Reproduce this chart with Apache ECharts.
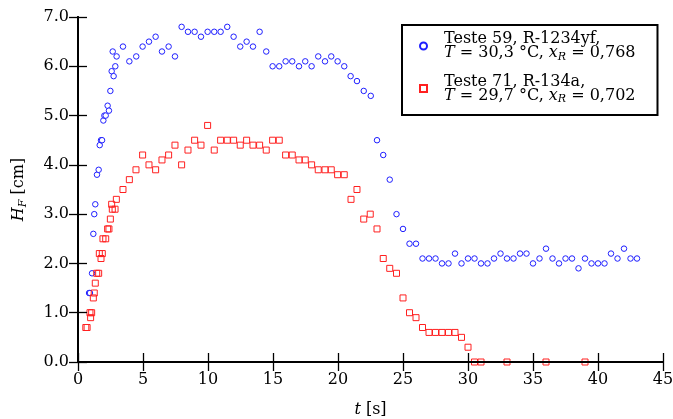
<!DOCTYPE html>
<html>
<head>
<meta charset="utf-8">
<script src="https://cdn.jsdelivr.net/npm/echarts@6/dist/echarts.min.js"></script>
<style>
html,body{margin:0;padding:0;background:#fff;}
#chart{width:673px;height:419px;}
</style>
</head>
<body>
<div id="chart"></div>
<script>
// Teste 59, R-1234yf : [t (s), H_F (cm)]
var serie59 = [
  [0.85,1.4],[0.92,1.4],[1.08,1.8],[1.18,2.6],[1.25,3.0],[1.33,3.2],[1.46,3.8],[1.59,3.9],
  [1.67,4.4],[1.77,4.5],[1.85,4.5],[1.95,4.9],[2.03,5.0],[2.13,5.0],[2.28,5.2],[2.38,5.1],
  [2.49,5.5],[2.59,5.9],[2.74,5.8],[2.87,6.0],[2.67,6.3],[2.97,6.2],[3.46,6.4],[3.95,6.1],
  [4.48,6.2],[4.97,6.4],[5.46,6.5],[5.97,6.6],[6.46,6.3],[6.97,6.4],[7.46,6.2],[7.97,6.8],
  [8.46,6.7],[8.97,6.7],[9.46,6.6],[9.97,6.7],[10.48,6.7],[10.97,6.7],[11.48,6.8],[11.97,6.6],
  [12.48,6.4],[12.97,6.5],[13.46,6.4],[13.97,6.7],[14.48,6.3],[14.97,6.0],[15.48,6.0],[15.97,6.1],
  [16.48,6.1],[17.0,6.0],[17.48,6.1],[17.97,6.0],[18.48,6.2],[19.0,6.1],[19.48,6.2],[19.97,6.1],
  [20.48,6.0],[20.97,5.8],[21.46,5.7],[21.98,5.5],[22.52,5.4],[23.0,4.5],[23.48,4.2],[23.98,3.7],
  [24.5,3.0],[25.0,2.7],[25.5,2.4],[26.0,2.4],[26.5,2.1],[27.0,2.1],[27.5,2.1],[28.0,2.0],
  [28.5,2.0],[29.0,2.2],[29.5,2.0],[30.0,2.1],[30.5,2.1],[31.0,2.0],[31.5,2.0],[32.0,2.1],
  [32.5,2.2],[33.0,2.1],[33.5,2.1],[34.0,2.2],[34.5,2.2],[35.0,2.0],[35.5,2.1],[36.0,2.3],
  [36.5,2.1],[37.0,2.0],[37.5,2.1],[38.0,2.1],[38.5,1.9],[39.0,2.1],[39.5,2.0],[40.0,2.0],
  [40.5,2.0],[41.0,2.2],[41.5,2.1],[42.0,2.3],[42.5,2.1],[43.0,2.1]
];
// Teste 71, R-134a : [t (s), H_F (cm)]
var serie71 = [
  [0.6,0.7],[0.7,0.7],[0.92,1.0],[0.97,0.9],[1.05,1.0],[1.18,1.3],[1.25,1.4],[1.33,1.6],
  [1.44,1.8],[1.59,1.8],[1.64,2.2],[1.77,2.1],[1.87,2.2],[1.92,2.5],[2.13,2.5],[2.28,2.7],
  [2.38,2.7],[2.49,2.9],[2.59,3.2],[2.64,3.1],[2.85,3.1],[2.95,3.3],[3.46,3.5],[3.95,3.7],
  [4.46,3.9],[4.97,4.2],[5.46,4.0],[5.97,3.9],[6.46,4.1],[6.97,4.2],[7.46,4.4],[7.97,4.0],
  [8.46,4.3],[8.97,4.5],[9.46,4.4],[9.97,4.8],[10.48,4.3],[10.97,4.5],[11.48,4.5],[11.97,4.5],
  [12.48,4.4],[12.97,4.5],[13.46,4.4],[13.97,4.4],[14.48,4.3],[14.97,4.5],[15.48,4.5],[15.97,4.2],
  [16.48,4.2],[17.0,4.1],[17.48,4.1],[17.97,4.0],[18.48,3.9],[19.0,3.9],[19.48,3.9],[19.97,3.8],
  [20.48,3.8],[21.0,3.3],[21.46,3.5],[21.98,2.9],[22.48,3.0],[23.0,2.7],[23.48,2.1],[23.98,1.9],
  [24.5,1.8],[25.0,1.3],[25.5,1.0],[26.0,0.9],[26.5,0.7],[27.0,0.6],[27.5,0.6],[28.0,0.6],
  [28.5,0.6],[29.0,0.6],[29.5,0.5],[30.0,0.3],[30.5,0.0],[31.0,0.0],[33.0,0.0],[36.0,0.0],
  [39.0,0.0]
];
var xRange = [0, 45, 5];
var yRange = [0, 7, 1];
var names = ['Teste 59, R-1234yf', 'Teste 71, R-134a'];
var legendLines = {
  'Teste 59, R-1234yf': ['Teste 59, R-1234yf,', '30,3', '0,768'],
  'Teste 71, R-134a':   ['Teste 71, R-134a,',   '29,7', '0,702']
};

var FONT = 'DejaVu Serif';
var blue = '#1f1fff', red = '#ff2020';

var chart = echarts.init(document.getElementById('chart'), null, {renderer: 'canvas'});

var axisLine = {show: true, lineStyle: {color: '#000', width: 2}};
var axisTick = {show: true, inside: true, length: 9, lineStyle: {color: '#000', width: 1.3}};
var LF = 16;

var option = {
  animation: false,
  backgroundColor: '#fff',
  grid: {left: 78, right: 10, top: 17, bottom: 57, containLabel: false, outerBoundsMode: 'none'},
  xAxis: [{
    type: 'value', min: xRange[0], max: xRange[1], interval: xRange[2], position: 'bottom',
    axisLine: axisLine, axisTick: axisTick, splitLine: {show: false},
    axisLabel: {color: '#000', fontFamily: FONT, fontSize: 16, margin: 10},
    name: '{i|t} [s]', nameLocation: 'middle', nameGap: 40,
    nameTextStyle: {color: '#000', fontFamily: FONT, fontSize: 16,
      rich: {i: {fontStyle: 'italic', fontFamily: FONT, fontSize: 16}}},
    z: 5
  }, {
    type: 'value', min: xRange[0], max: xRange[1], interval: xRange[2], position: 'top',
    axisLine: axisLine, axisTick: axisTick, splitLine: {show: false},
    axisLabel: {show: false}, z: 5
  }],
  yAxis: [{
    type: 'value', min: yRange[0], max: yRange[1], interval: yRange[2], position: 'left',
    axisLine: axisLine, axisTick: axisTick, splitLine: {show: false},
    axisLabel: {color: '#000', fontFamily: FONT, fontSize: 16, margin: 9,
      formatter: function (v) { return v.toFixed(1); }},
    name: '{i|H}{s|F} [cm]', nameLocation: 'middle', nameGap: 50, nameRotate: 90,
    nameTextStyle: {color: '#000', fontFamily: FONT, fontSize: 16, lineHeight: 18,
      rich: {
        i: {fontStyle: 'italic', fontFamily: FONT, fontSize: 16, lineHeight: 18},
        s: {fontStyle: 'italic', fontFamily: FONT, fontSize: 11, lineHeight: 10, padding: [9, 0, 0, 0]}
      }},
    z: 5
  }, {
    type: 'value', min: yRange[0], max: yRange[1], interval: yRange[2], position: 'right',
    axisLine: axisLine, axisTick: axisTick, splitLine: {show: false},
    axisLabel: {show: false}, z: 5
  }],
  legend: {
    show: true,
    orient: 'vertical',
    left: 402, top: 25,
    padding: [6, 22, 10, 17],
    itemGap: 11,
    itemWidth: 7, itemHeight: 7,
    borderColor: '#000', borderWidth: 2, borderRadius: 0,
    backgroundColor: '#fff',
    data: [{name: names[0], icon: 'circle'}, {name: names[1], icon: 'rect'}],
    formatter: function (name) {
      var l = legendLines[name];
      return '{g| }{t|' + l[0] + '}\n{g| }{i|T}{t| = ' + l[1] + ' °C, }{i|x}{s|R}{t| = ' + l[2] + '}';
    },
    textStyle: {
      color: '#000', fontFamily: FONT, fontSize: LF, lineHeight: 14,
      rich: {
        g: {width: 12, fontSize: LF, lineHeight: 14},
        t: {fontFamily: FONT, fontSize: LF, lineHeight: 14, color: '#000'},
        i: {fontFamily: FONT, fontSize: LF, lineHeight: 14, fontStyle: 'italic', color: '#000'},
        s: {fontFamily: FONT, fontSize: 11, lineHeight: 6, fontStyle: 'italic', color: '#000', padding: [8, 0, 0, 0]}
      }
    },
    z: 10
  },
  series: [{
    name: names[0], type: 'scatter', data: serie59,
    symbol: 'circle', symbolSize: 5.5,
    itemStyle: {color: '#fff', borderColor: blue, borderWidth: 1, opacity: 1},
    clip: true, z: 2
  }, {
    name: names[1], type: 'scatter', data: serie71,
    symbol: 'rect', symbolSize: 6,
    itemStyle: {color: 'rgba(255,255,255,0)', borderColor: red, borderWidth: 1, opacity: 1},
    clip: true, z: 3
  }]
};
chart.setOption(option);
</script>
</body>
</html>
